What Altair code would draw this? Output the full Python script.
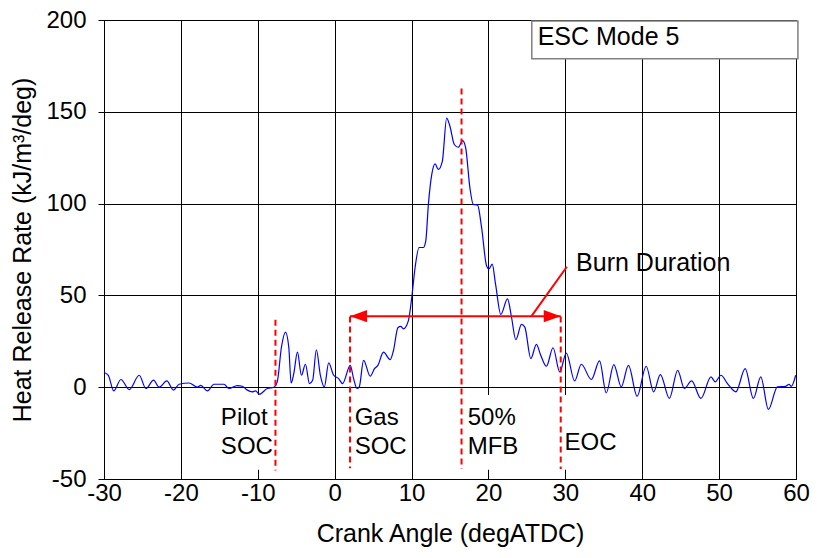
import altair as alt
import pandas as pd

# Heat release rate trace
crank = [-30.0, -29.44, -28.74, -27.80, -26.72, -25.42, -24.55, -23.55, -22.83, -21.83,
         -20.96, -20.23, -18.94, -17.85, -17.42, -16.55, -15.70, -14.40, -13.75, -12.66,
         -12.01, -11.36, -10.72, -10.29, -9.77, -8.77, -7.91, -7.47, -6.92, -6.40,
         -5.97, -5.66, -5.32, -4.84, -4.32, -3.80, -3.28, -2.86, -2.38, -1.86,
         -1.34, -0.78, -0.13, 0.51, 1.03, 2.03, 2.46, 2.90, 3.20, 3.76,
         4.63, 5.18, 5.62, 6.35, 7.22, 7.65, 8.22, 8.60, 8.94, 9.59,
         10.03, 10.46, 10.98, 11.54, 11.85, 12.19, 12.63, 13.06, 13.48, 14.00,
         14.57, 15.00, 15.56, 16.08, 16.65, 17.04, 17.59, 18.02, 18.59, 19.11,
         19.76, 20.06, 20.49, 20.93, 21.61, 22.48, 23.00, 23.56, 24.30, 24.73,
         25.51, 26.24, 26.80, 27.54, 28.40, 29.27, 30.13, 31.21, 32.08, 33.38,
         34.45, 35.32, 36.31, 37.27, 38.21, 39.34, 40.51, 41.49, 42.36, 43.53,
         44.61, 45.48, 46.42, 47.64, 48.94, 49.50, 50.24, 51.09, 52.18, 53.39,
         54.46, 55.42, 56.41, 57.58, 58.67, 59.09, 59.39, 59.96]
hrr = [8.0, 6.5, -2.0, 4.2, -1.3, 6.5, -0.7, 3.8, 0.0, 3.4,
       -1.6, 1.6, 2.3, 0.0, 1.0, -2.0, 1.6, 1.6, -0.7, 0.9,
       0.5, -1.6, -2.5, -2.0, -3.8, -0.7, 0.0, 2.9, 21.9, 30.0,
       21.9, 2.3, 7.4, 19.1, 6.5, 12.5, 2.0, 3.8, 20.4, 6.5,
       0.2, 13.2, 6.5, 4.7, 2.0, 11.9, 4.7, -0.7, 0.2, 14.6,
       6.0, 10.1, 11.9, 19.1, 15.0, 20.0, 32.4, 33.1, 31.8, 36.3,
       49.0, 65.2, 76.1, 76.1, 79.7, 99.6, 115.9, 121.6, 118.6, 123.0,
       146.6, 142.0, 132.2, 130.7, 134.3, 130.3, 108.6, 99.6, 99.2, 86.9,
       66.0, 64.4, 67.0, 56.0, 39.6, 48.1, 38.1, 25.9, 34.2, 32.7,
       15.6, 23.3, 17.4, 11.4, 21.5, 8.3, 18.6, 3.4, 12.5, 4.2,
       14.3, -3.1, 12.3, 0.2, 11.9, -4.9, 11.4, -2.5, 6.9, -6.1,
       9.2, -0.7, 3.4, -6.1, 5.6, 2.9, 6.5, 2.0, -2.5, 10.1,
       -6.1, 5.6, -12.1, 0.2, 0.5, 1.6, 0.5, 6.5]

# Event markers (crank angle, top, bottom)
event_x = [-7.7, 2.0, 16.5, 29.4]
event_top = [36.7, 38.5, 162.7, 38.5]
event_bottom = [-45.4, -44.1, -44.5, -44.5]

# Annotation texts
label_text = ["Pilot", "SOC", "Gas", "SOC", "50%", "MFB", "EOC"]
label_x = [-14.8, -14.8, 2.6, 2.6, 17.3, 17.3, 29.9]
label_y = [-17.0, -32.4, -17.0, -32.4, -17.0, -32.4, -30.5]

# White boxes behind the labels
box_x = [-15.5, 2.4, 16.9, 29.6]
box_x2 = [-7.95, 9.4, 24.3, 36.9]
box_y = [-4.3, -4.3, -4.3, -4.3]
box_y2 = [-45.0, -45.0, -45.0, -45.0]

# Burn duration arrow
arrow_start, arrow_end, arrow_level = 2.0, 29.4, 38.7
leader = [25.6, 38.7, 30.2, 65.6]
burn_label = ("Burn Duration", 31.4, 67.5)

FONT = "Liberation Sans"
FS = 24

x_scale = alt.Scale(domain=[-30, 60], nice=False, zero=False)
y_scale = alt.Scale(domain=[-50, 200], nice=False, zero=False)
x_axis = alt.Axis(values=list(range(-30, 61, 10)), title="Crank Angle (degATDC)",
                  tickSize=0, labelPadding=2, titlePadding=16, labelFlush=False,
                  labelExpr="'' + datum.value")
y_axis = alt.Axis(values=list(range(-50, 201, 50)), title="Heat Release Rate (kJ/m³/deg)",
                  tickSize=6, labelPadding=12, titlePadding=10, labelFlush=False,
                  labelExpr="'' + datum.value")


def X(f):
    return alt.X(f, type="quantitative", scale=x_scale, axis=x_axis)


def Y(f):
    return alt.Y(f, type="quantitative", scale=y_scale, axis=y_axis)


curve_df = pd.DataFrame({"x": crank, "y": hrr})
events_df = pd.DataFrame({"x": event_x, "y": event_top, "y2": event_bottom})
labels_df = pd.DataFrame({"x": label_x, "y": label_y, "t": label_text})
boxes_df = pd.DataFrame({"x": box_x, "x2": box_x2, "y": box_y, "y2": box_y2})
arrow_df = pd.DataFrame({"x": [arrow_start], "x2": [arrow_end], "y": [arrow_level]})
heads_left = pd.DataFrame({"x": [arrow_start], "y": [arrow_level]})
heads_right = pd.DataFrame({"x": [arrow_end], "y": [arrow_level]})
leader_df = pd.DataFrame({"x": [leader[0]], "y": [leader[1]], "x2": [leader[2]], "y2": [leader[3]]})
burn_df = pd.DataFrame({"x": [burn_label[1]], "y": [burn_label[2]], "t": [burn_label[0]]})
legend_df = pd.DataFrame({"x": [25.64], "x2": [60.25], "y": [199.5], "y2": [178.9]})
legend_txt = pd.DataFrame({"x": [26.4], "y": [190.5], "t": ["ESC Mode 5"]})

boxes = alt.Chart(boxes_df).mark_rect(color="white").encode(
    x=X("x"), x2="x2", y=Y("y"), y2="y2")

legend_box = alt.Chart(legend_df).mark_rect(fill="white", stroke="#808080", strokeWidth=1.5).encode(
    x=X("x"), x2="x2", y=Y("y"), y2="y2")

legend_text = alt.Chart(legend_txt).mark_text(align="left", baseline="middle", font=FONT,
                                              fontSize=25, color="black").encode(
    x=X("x"), y=Y("y"), text="t:N")

curve = alt.Chart(curve_df).mark_line(color="#0000FF", strokeWidth=1.2,
                                      interpolate="monotone").encode(
    x=X("x"), y=Y("y"), order="x:Q")

events = alt.Chart(events_df).mark_rule(color="#FF0000", strokeWidth=2,
                                        strokeDash=[6, 4]).encode(
    x=X("x"), y=Y("y"), y2="y2")

arrow = alt.Chart(arrow_df).mark_rule(color="#FF0000", strokeWidth=2).encode(
    x=X("x"), x2="x2", y=Y("y"))

head_l = alt.Chart(heads_left).mark_point(shape="M0,0L1,-0.36L1,0.36Z", filled=True,
                                          size=1156, color="#FF0000", opacity=1).encode(
    x=X("x"), y=Y("y"))
head_r = alt.Chart(heads_right).mark_point(shape="M0,0L-1,-0.36L-1,0.36Z", filled=True,
                                           size=1156, color="#FF0000", opacity=1).encode(
    x=X("x"), y=Y("y"))

leader_line = alt.Chart(leader_df).mark_rule(color="#FF0000", strokeWidth=2).encode(
    x=X("x"), y=Y("y"), x2="x2", y2="y2")

labels = alt.Chart(labels_df).mark_text(align="left", baseline="middle", font=FONT,
                                        fontSize=FS, color="black").encode(
    x=X("x"), y=Y("y"), text="t:N")

burn = alt.Chart(burn_df).mark_text(align="left", baseline="middle", font=FONT,
                                    fontSize=25, color="black").encode(
    x=X("x"), y=Y("y"), text="t:N")

chart = alt.layer(
    boxes, legend_box, legend_text, curve, events, arrow, head_l, head_r,
    leader_line, labels, burn
).properties(
    width=692, height=459,
    autosize=alt.AutoSizeParams(type="none"),
    padding={"left": 96, "top": 12, "right": 14, "bottom": 71},
    background="white",
).configure_view(
    stroke="black", strokeWidth=1
).configure_axis(
    grid=True, gridColor="black", gridWidth=1, gridOpacity=1,
    domainColor="black", domainWidth=1, tickColor="black",
    labelFont=FONT, labelFontSize=FS, labelColor="black",
    titleFont=FONT, titleFontSize=25, titleFontWeight="normal", titleColor="black",
)

chart.save("out.html", embed_options={"renderer": "svg", "actions": False})
